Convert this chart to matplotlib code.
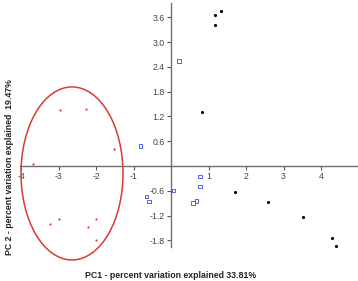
import matplotlib
matplotlib.use('Agg')
import matplotlib.pyplot as plt
from matplotlib.patches import Ellipse

# PCA scores
group_a_x = [1.33, 1.16, 1.18, 0.83, 1.71, 2.58, 3.52, 4.28, 4.40]
group_a_y = [3.76, 3.66, 3.42, 1.31, -0.62, -0.87, -1.24, -1.74, -1.94]

group_b_x = [0.21, -0.82, -0.65, -0.59, 0.06, 0.77, 0.77, 0.59, 0.68]
group_b_y = [2.54, 0.48, -0.74, -0.86, -0.59, -0.26, -0.50, -0.90, -0.85]

group_c_x = [-2.95, -2.27, -3.67, -1.52, -3.23, -2.98, -2.22, -2.01, -2.00]
group_c_y = [1.36, 1.39, 0.05, 0.40, -1.41, -1.28, -1.48, -1.28, -1.80]

x_ticks = [-4, -3, -2, -1, 1, 2, 3, 4]
y_ticks = [-1.8, -1.2, -0.6, 0.6, 1.2, 1.8, 2.4, 3.0, 3.6]

ellipse_center = (-2.64, -0.18)
ellipse_size = (2.72, 4.19)

W, H = 358, 281
fig = plt.figure(figsize=(W / 100, H / 100), dpi=100)

# axes placed so origin sits at pixel (171, 166)
xlim = (-4.45, 5.0)
ylim = (-2.4, 4.0)
px_x, px_y = 37.5, 41.3
left = 171 + xlim[0] * px_x
right = 171 + xlim[1] * px_x
top = 166 - ylim[1] * px_y
bottom = 166 - ylim[0] * px_y
ax = fig.add_axes([left / W, 1 - bottom / H, (right - left) / W, (bottom - top) / H])
ax.set_xlim(*xlim)
ax.set_ylim(*ylim)
ax.patch.set_alpha(0)

ax.scatter(group_a_x, group_a_y, s=5, color='black', linewidths=0, zorder=3)
ax.scatter(group_b_x, group_b_y, s=6, marker='s', facecolors='none',
           edgecolors='#3a46f0', linewidths=0.6, zorder=3)
ax.scatter(group_c_x, group_c_y, s=2.5, color='#e03a3a', linewidths=0, zorder=3)

ax.add_patch(Ellipse(ellipse_center, ellipse_size[0], ellipse_size[1],
                     fill=False, edgecolor='#d93a32', linewidth=1.1, zorder=2))

# axes crossing at origin
axis_col = '#6f6f6f'
for side in ['top', 'right']:
    ax.spines[side].set_visible(False)
ax.spines['left'].set_position(('data', 0))
ax.spines['bottom'].set_position(('data', 0))
ax.spines['left'].set_bounds(-1.97, 3.95)
ax.spines['bottom'].set_bounds(-4.02, 4.95)
for side in ['left', 'bottom']:
    ax.spines[side].set_color(axis_col)
    ax.spines[side].set_linewidth(1.0)

ax.set_xticks(x_ticks)
ax.set_xticklabels([str(t) for t in x_ticks])
ax.set_yticks(y_ticks)
ax.set_yticklabels([f'{t:.1f}' for t in y_ticks])
ax.tick_params(axis='both', colors='#555555', labelcolor='#444444', labelsize=6.3,
               length=3, width=0.8, pad=1.5, direction='out')
for lbl in ax.get_xticklabels() + ax.get_yticklabels():
    lbl.set_family('Liberation Sans')

fig.text(170.5 / W, 1 - 275 / H, 'PC1 - percent variation explained 33.81%',
         ha='center', va='center', fontsize=6.3, fontweight='bold',
         family='Liberation Sans', color='#222222')
fig.text(10 / W, 1 - 167.5 / H, 'PC 2 - percent variation explained  19.47%',
         ha='center', va='center', rotation=90, fontsize=6.3, fontweight='bold',
         family='Liberation Sans', color='#222222')

fig.savefig('out.png', dpi=100)
